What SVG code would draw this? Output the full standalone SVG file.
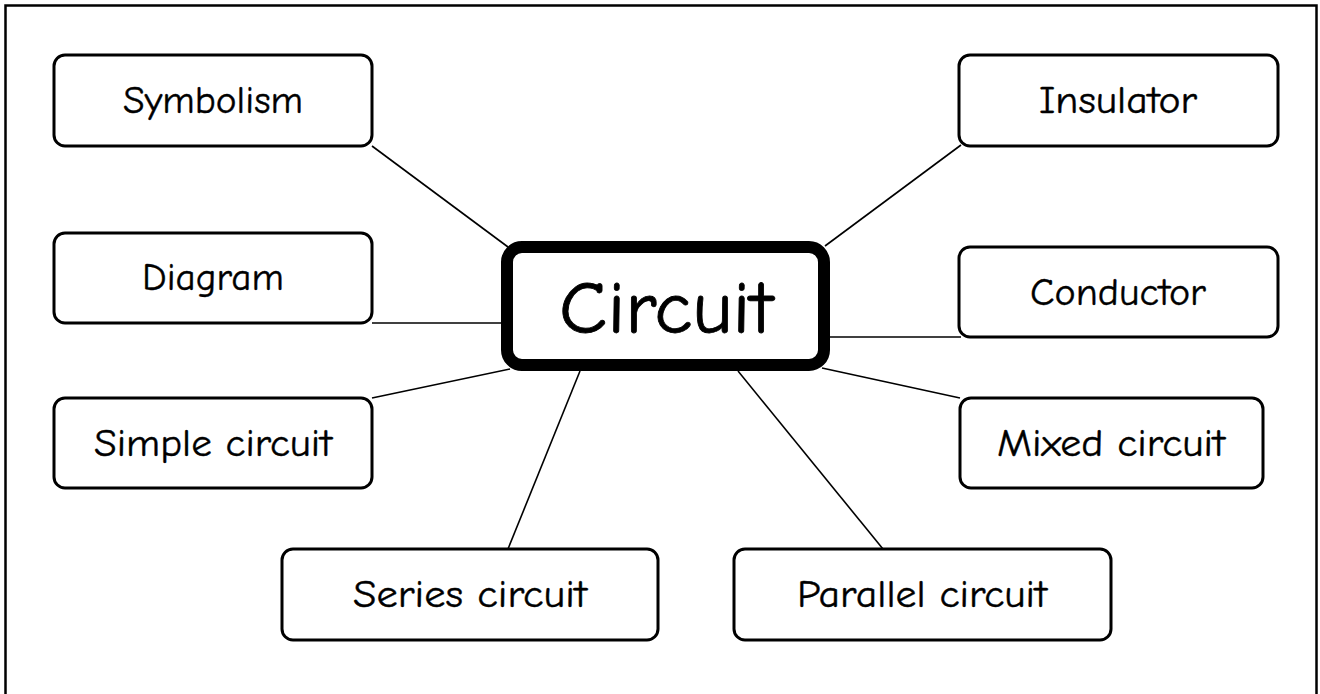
<svg xmlns="http://www.w3.org/2000/svg" width="1320" height="694" viewBox="0 0 1320 694">
<style>
.box{fill:#fff;stroke:#000;stroke-width:3}
.main{fill:#fff;stroke:#000;stroke-width:12}
.lbl{font-family:"Comic Sans MS","Comic Neue","DejaVu Sans",sans-serif;font-size:39px;fill:#000;text-anchor:middle;stroke:#000;stroke-width:0.4}
.big{font-size:74px;stroke-width:0.8}
.ln{stroke:#000;stroke-width:1.6;fill:none}
</style>
<rect x="0" y="0" width="1320" height="694" fill="#fff"/>
<rect x="5.5" y="5.5" width="1311" height="700" fill="none" stroke="#000" stroke-width="2.5"/>
<g id="connectors">
<line class="ln" x1="372" y1="146" x2="508" y2="247"/>
<line class="ln" x1="961" y1="145" x2="825" y2="246"/>
<line class="ln" x1="372" y1="323" x2="502" y2="323"/>
<line class="ln" x1="830" y1="337" x2="961" y2="337"/>
<line class="ln" x1="372" y1="398" x2="510" y2="369"/>
<line class="ln" x1="822" y1="368" x2="960" y2="398"/>
<line class="ln" x1="508" y1="549" x2="580" y2="371"/>
<line class="ln" x1="738" y1="371" x2="883" y2="549"/>
</g>
<g id="symbolism"><rect class="box" x="54" y="55" width="318" height="91" rx="11"/><text class="lbl" x="213" y="113" textLength="180" lengthAdjust="spacingAndGlyphs">Symbolism</text></g>
<g id="diagram"><rect class="box" x="54" y="233" width="318" height="90" rx="11"/><text class="lbl" x="213" y="290" textLength="142" lengthAdjust="spacingAndGlyphs">Diagram</text></g>
<g id="simple-circuit"><rect class="box" x="54" y="398" width="318" height="90" rx="11"/><text class="lbl" x="213" y="456" textLength="238" lengthAdjust="spacingAndGlyphs">Simple circuit</text></g>
<g id="insulator"><rect class="box" x="959" y="55" width="319" height="91" rx="11"/><text class="lbl" x="1118" y="113" textLength="158" lengthAdjust="spacingAndGlyphs">Insulator</text></g>
<g id="conductor"><rect class="box" x="959" y="247" width="319" height="90" rx="11"/><text class="lbl" x="1118" y="305" textLength="176" lengthAdjust="spacingAndGlyphs">Conductor</text></g>
<g id="mixed-circuit"><rect class="box" x="960" y="398" width="303" height="90" rx="11"/><text class="lbl" x="1111" y="456" textLength="228" lengthAdjust="spacingAndGlyphs">Mixed circuit</text></g>
<g id="series-circuit"><rect class="box" x="282" y="549" width="376" height="91" rx="11"/><text class="lbl" x="470" y="607" textLength="234" lengthAdjust="spacingAndGlyphs">Series circuit</text></g>
<g id="parallel-circuit"><rect class="box" x="734" y="549" width="377" height="91" rx="11"/><text class="lbl" x="922" y="607" textLength="250" lengthAdjust="spacingAndGlyphs">Parallel circuit</text></g>
<g id="circuit"><rect class="main" x="507" y="247" width="317" height="118" rx="15"/><text class="lbl big" x="666" y="333" textLength="214" lengthAdjust="spacingAndGlyphs">Circuit</text></g>
</svg>
